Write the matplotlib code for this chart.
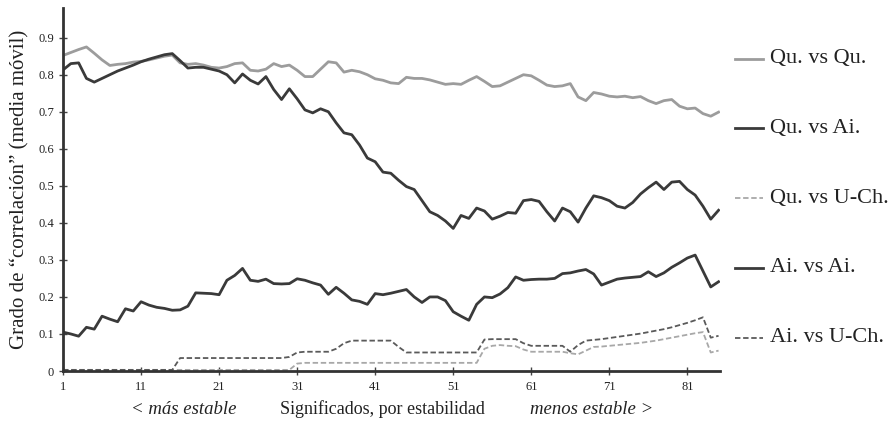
import matplotlib
matplotlib.use("Agg")
import matplotlib.pyplot as plt
from matplotlib.lines import Line2D
import numpy as np

# Datos (media móvil, significados 1..85)
significados = list(range(1, 86))

qu_vs_qu = [0.852, 0.86, 0.868, 0.875, 0.858, 0.84, 0.825, 0.828, 0.83, 0.834,
            0.836, 0.84, 0.845, 0.85, 0.853, 0.832, 0.828, 0.83, 0.826, 0.82,
            0.818, 0.822, 0.83, 0.832, 0.812, 0.81, 0.815, 0.83, 0.822, 0.826,
            0.812, 0.795, 0.795, 0.815, 0.835, 0.832, 0.807, 0.812, 0.808, 0.8,
            0.789, 0.785, 0.778, 0.776, 0.793, 0.79, 0.79, 0.786, 0.78, 0.774,
            0.776, 0.774, 0.785, 0.795, 0.782, 0.768, 0.77, 0.78, 0.79, 0.8,
            0.797, 0.785, 0.772, 0.768, 0.77, 0.776, 0.74, 0.73, 0.752, 0.748,
            0.742, 0.74, 0.742, 0.738, 0.741, 0.73, 0.722, 0.73, 0.733, 0.715,
            0.708, 0.71, 0.695, 0.688, 0.699]

qu_vs_ai = [0.813, 0.83, 0.832, 0.79, 0.78, 0.79, 0.8, 0.81, 0.818, 0.826,
            0.835, 0.842, 0.848, 0.854, 0.857, 0.838, 0.818, 0.82, 0.82, 0.815,
            0.81, 0.8, 0.778, 0.802, 0.785, 0.775, 0.795, 0.76, 0.733, 0.762,
            0.735, 0.705, 0.697, 0.708, 0.7, 0.67, 0.643, 0.638, 0.61, 0.575,
            0.565, 0.537, 0.534, 0.515, 0.498, 0.49, 0.46, 0.43, 0.42, 0.405,
            0.385, 0.42, 0.412, 0.44, 0.432, 0.41, 0.418, 0.428, 0.426, 0.46,
            0.463, 0.458, 0.43, 0.405, 0.44, 0.43, 0.402, 0.44, 0.473, 0.468,
            0.46, 0.445, 0.44, 0.455, 0.478, 0.495, 0.51, 0.49, 0.51, 0.512,
            0.49, 0.475, 0.445, 0.41, 0.434]

qu_vs_uch = [0.003] * 30 + [0.02] + [0.022] * 23 + \
            [0.06, 0.068, 0.07, 0.068, 0.067, 0.058, 0.052, 0.052, 0.052, 0.052,
             0.052, 0.048, 0.045, 0.055, 0.065, 0.066, 0.068, 0.07, 0.072, 0.074,
             0.076, 0.079, 0.082, 0.086, 0.09, 0.094, 0.098, 0.102, 0.105, 0.05,
             0.055]

ai_vs_ai = [0.105, 0.1, 0.094, 0.118, 0.113, 0.148, 0.14, 0.133, 0.168, 0.162,
            0.187, 0.178, 0.172, 0.169, 0.164, 0.165, 0.175, 0.211, 0.21, 0.209,
            0.206, 0.245, 0.258, 0.277, 0.245, 0.242, 0.248, 0.236, 0.235, 0.236,
            0.249, 0.245, 0.238, 0.232, 0.207, 0.226, 0.21, 0.192, 0.188, 0.18,
            0.209, 0.206, 0.21, 0.215, 0.22, 0.2, 0.185, 0.2, 0.2, 0.19,
            0.16, 0.148, 0.137, 0.18, 0.2, 0.198, 0.208, 0.225, 0.254, 0.245,
            0.247, 0.248, 0.248, 0.25, 0.263, 0.265, 0.27, 0.274, 0.262, 0.232,
            0.24, 0.248, 0.251, 0.253, 0.255, 0.268, 0.255, 0.265, 0.28, 0.292,
            0.305, 0.313, 0.27, 0.227, 0.241]

ai_vs_uch = [0.003] * 15 + [0.035] * 14 + \
            [0.038, 0.05, 0.052, 0.052, 0.052, 0.052, 0.06, 0.075, 0.082, 0.082,
             0.082, 0.082, 0.082, 0.082, 0.065, 0.05, 0.05, 0.05, 0.05, 0.05,
             0.05, 0.05, 0.05, 0.05, 0.05, 0.085, 0.086, 0.086, 0.086, 0.086,
             0.075, 0.068, 0.068, 0.068, 0.068, 0.068, 0.052, 0.07, 0.082, 0.084,
             0.086, 0.089, 0.092, 0.095, 0.098, 0.101, 0.105, 0.109, 0.113, 0.118,
             0.124, 0.13, 0.137, 0.145, 0.09, 0.095]

x_ticks = [1, 11, 21, 31, 41, 51, 61, 71, 81]
y_ticks = [0, 0.1, 0.2, 0.3, 0.4, 0.5, 0.6, 0.7, 0.8, 0.9]
y_ticklabels = ["0", "0.1", "0.2", "0.3", "0.4", "0.5", "0.6", "0.7", "0.8", "0.9"]

# Estilos de cada serie: (etiqueta, datos, color, grosor, estilo)
series = [
    ("Qu. vs Qu.", qu_vs_qu, "#9c9c9c", 2.0, "-"),
    ("Qu. vs Ai.", qu_vs_ai, "#3a3a3a", 2.0, "-"),
    ("Qu. vs U-Ch.", qu_vs_uch, "#a8a8a8", 1.3, (0, (3, 1.5))),
    ("Ai. vs Ai.", ai_vs_ai, "#3a3a3a", 2.0, "-"),
    ("Ai. vs U-Ch.", ai_vs_uch, "#5a5a5a", 1.3, (0, (3, 1.5))),
]

plt.rcParams["font.family"] = ["Liberation Serif", "DejaVu Serif"]

fig = plt.figure(figsize=(8.94, 4.24), dpi=100)
ax = fig.add_axes([0.0705, 0.125, 0.735, 0.856])

for label, vals, col, lw, ls in series:
    ax.plot(significados, vals, color=col, linewidth=lw, linestyle=ls,
            solid_joinstyle="round", label=label)

ax.set_xlim(1, 85.2)
ax.set_ylim(0, 0.98)
ax.set_xticks(x_ticks)
ax.set_yticks(y_ticks)
ax.set_yticklabels(y_ticklabels)
ax.tick_params(direction="inout", length=6, width=1, color="#444444",
               labelsize=9, labelcolor="#222222")
ax.tick_params(axis="x", pad=4)

for s in ["top", "right"]:
    ax.spines[s].set_visible(False)
for s in ["left", "bottom"]:
    ax.spines[s].set_linewidth(2)
    ax.spines[s].set_color("#333333")

ax.set_ylabel("Grado de “correlación” (media móvil)", fontsize=15,
              color="#222222", labelpad=6)

# Textos bajo el eje x
fig.text(382 / 894, 1 - 409 / 424, "Significados, por estabilidad",
         ha="center", va="center", fontsize=13, color="#222222")
fig.text(184 / 894, 1 - 409 / 424, "< más estable", ha="center", va="center",
         fontsize=13.5, style="italic", color="#222222")
fig.text(592 / 894, 1 - 409 / 424, "menos estable >", ha="center", va="center",
         fontsize=13.5, style="italic", color="#222222")

# Leyenda a la derecha, una entrada por serie
legend_y = [59, 128, 198, 268, 338]
for (label, vals, col, lw, ls), yp in zip(series, legend_y):
    yf = 1 - yp / 424
    fig.add_artist(Line2D([735 / 894, 763 / 894], [yf, yf], color=col,
                          linewidth=lw, linestyle=ls, transform=fig.transFigure))
    fig.text(770 / 894, yf, label, ha="left", va="center", fontsize=16,
             color="#222222")

fig.savefig("out.png", dpi=100)
